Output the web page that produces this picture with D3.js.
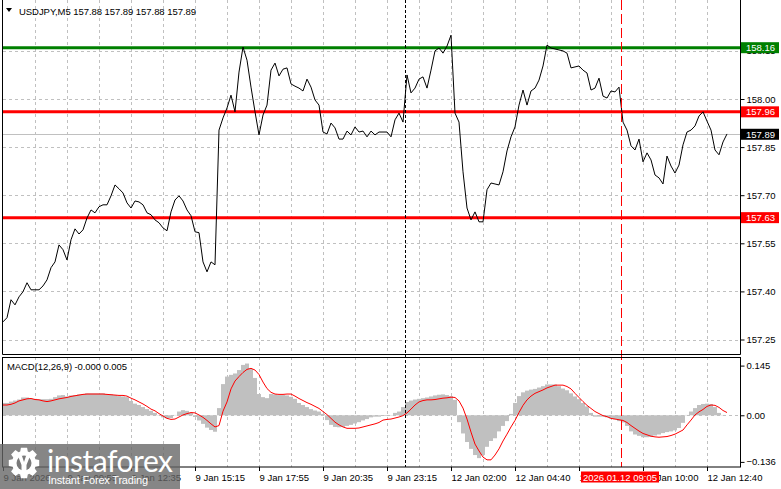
<!DOCTYPE html>
<html>
<head>
<meta charset="utf-8">
<script src="https://cdn.jsdelivr.net/npm/d3@7"></script>
<style>
  html, body { margin: 0; padding: 0; background: #fff; }
  svg { display: block; font-family: "Liberation Sans", Arial, sans-serif; }
</style>
</head>
<body>
<div id="chart"></div>
<script>
"use strict";

// close price, one value every 2 bars (10 minutes)
const closes = [
  157.305,157.318,157.374,157.358,157.383,157.399,157.427,157.405,157.405,157.405,
  157.417,157.436,157.474,157.492,157.545,157.530,157.498,157.561,157.595,157.579,
  157.592,157.629,157.654,157.645,157.664,157.670,157.670,157.698,157.732,157.720,
  157.707,157.676,157.660,157.682,157.679,157.670,157.645,157.639,157.623,157.614,
  157.598,157.589,157.648,157.685,157.698,157.682,157.654,157.636,157.586,157.583,
  157.492,157.461,157.492,157.483,157.903,157.941,157.972,158.012,157.960,158.084,
  158.162,158.121,158.037,157.960,157.888,157.950,157.981,158.090,158.112,158.072,
  158.093,158.097,158.047,158.040,158.034,158.025,158.062,158.037,157.997,157.981,
  157.897,157.891,157.925,157.910,157.875,157.875,157.900,157.888,157.913,157.897,
  157.900,157.882,157.900,157.888,157.897,157.897,157.897,157.882,157.935,157.956,
  157.928,158.075,158.019,158.034,158.062,158.069,158.034,158.090,158.150,158.159,
  158.143,158.165,158.199,157.956,157.928,157.773,157.660,157.623,157.648,157.617,
  157.617,157.717,157.738,157.735,157.732,157.773,157.838,157.882,157.913,157.981,
  158.028,157.981,158.025,158.034,158.059,158.103,158.168,158.159,158.156,158.153,
  158.150,158.143,158.097,158.100,158.103,158.090,158.081,158.028,158.034,158.065,
  158.009,158.003,158.025,158.022,158.037,157.928,157.903,157.854,157.841,157.875,
  157.804,157.832,157.810,157.763,157.754,157.735,157.822,157.791,157.769,157.794,
  157.857,157.897,157.903,157.916,157.947,157.960,157.931,157.903,157.841,157.826,
  157.866,157.891
];

// MACD(12,26,9) main (histogram) and signal, same sampling
const macdMain = [
  0.036,0.036,0.040,0.043,0.046,0.052,0.052,0.049,0.048,0.047,
  0.047,0.047,0.048,0.053,0.058,0.059,0.055,0.058,0.059,0.061,
  0.062,0.064,0.064,0.064,0.064,0.064,0.062,0.061,0.059,0.056,
  0.055,0.053,0.042,0.034,0.030,0.024,0.018,0.013,0.007,0.001,
  -0.006,-0.009,-0.008,0.001,0.011,0.015,0.013,0.007,-0.005,-0.015,
  -0.025,-0.036,-0.043,-0.048,0.021,0.091,0.113,0.118,0.122,0.132,
  0.147,0.151,0.135,0.109,0.062,0.053,0.050,0.062,0.061,0.059,
  0.059,0.058,0.054,0.048,0.036,0.030,0.024,0.018,0.014,0.011,
  0.004,-0.014,-0.028,-0.034,-0.035,-0.034,-0.031,-0.028,-0.024,-0.020,
  -0.015,-0.011,-0.006,-0.004,-0.004,-0.002,-0.002,-0.001,0.007,0.011,
  0.024,0.039,0.043,0.046,0.048,0.050,0.052,0.055,0.058,0.060,
  0.061,0.059,0.056,0.045,-0.020,-0.053,-0.078,-0.098,-0.116,-0.125,
  -0.116,-0.092,-0.075,-0.067,-0.047,-0.031,-0.017,0.004,0.036,0.056,
  0.067,0.072,0.075,0.077,0.081,0.085,0.090,0.090,0.090,0.085,
  0.078,0.073,0.064,0.055,0.047,0.036,0.026,0.007,-0.004,-0.004,
  -0.004,-0.006,-0.009,-0.012,-0.017,-0.021,-0.031,-0.047,-0.056,-0.060,
  -0.064,-0.064,-0.063,-0.059,-0.056,-0.052,-0.049,-0.047,-0.044,-0.037,
  -0.022,0.001,0.011,0.021,0.030,0.033,0.034,0.033,0.024,0.007,
  0.001,0.000
];
const macdSignal = [
  0.030,0.030,0.032,0.036,0.042,0.045,0.048,0.049,0.046,0.045,
  0.042,0.040,0.042,0.045,0.048,0.050,0.052,0.055,0.057,0.059,
  0.061,0.062,0.062,0.062,0.062,0.062,0.061,0.060,0.059,0.058,
  0.058,0.056,0.050,0.045,0.039,0.033,0.026,0.018,0.013,0.005,
  -0.002,-0.009,-0.012,-0.011,-0.005,0.001,0.005,0.008,0.007,0.001,
  -0.006,-0.015,-0.025,-0.034,-0.030,0.012,0.039,0.077,0.100,0.113,
  0.125,0.134,0.137,0.132,0.119,0.097,0.078,0.067,0.062,0.061,
  0.061,0.062,0.062,0.056,0.049,0.043,0.037,0.032,0.026,0.020,
  0.011,0.002,-0.009,-0.020,-0.028,-0.034,-0.038,-0.038,-0.038,-0.037,
  -0.034,-0.031,-0.028,-0.025,-0.021,-0.014,-0.012,-0.011,-0.008,-0.005,
  -0.001,0.007,0.018,0.030,0.039,0.043,0.045,0.045,0.046,0.048,
  0.050,0.051,0.053,0.052,0.042,0.021,-0.011,-0.049,-0.084,-0.104,
  -0.122,-0.130,-0.130,-0.116,-0.098,-0.075,-0.055,-0.034,-0.015,0.008,
  0.029,0.045,0.056,0.064,0.069,0.074,0.080,0.084,0.088,0.088,
  0.088,0.084,0.077,0.064,0.052,0.040,0.029,0.020,0.011,0.005,
  -0.001,-0.004,-0.009,-0.011,-0.013,-0.015,-0.021,-0.030,-0.038,-0.046,
  -0.053,-0.057,-0.061,-0.063,-0.064,-0.063,-0.062,-0.059,-0.055,-0.049,
  -0.043,-0.028,-0.014,0.001,0.010,0.017,0.026,0.030,0.029,0.023,
  0.014,0.008
];

const priceTicks = [158.15, 158.00, 157.85, 157.70, 157.55, 157.40, 157.25];
const macdTicks = [0.145, 0.00, -0.136];
const timeLabels = ["9 Jan 2026", "9 Jan 09:55", "9 Jan 12:35", "9 Jan 15:15", "9 Jan 17:55",
  "9 Jan 20:35", "9 Jan 23:15", "12 Jan 02:00", "12 Jan 04:40", "12 Jan 07:20",
  "12 Jan 10:00", "12 Jan 12:40"];
const resistance = 158.16;
const levels = [157.96, 157.63];
const lastPrice = 157.89;
const header = "USDJPY,M5  157.88 157.89 157.88 157.89";
const macdHeader = "MACD(12,26,9) -0.000 0.005";
const separatorBar = 201;
const cursorBar = 309;
const cursorLabel = "2026.01.12 09:05";

const barStep = 2;       // bars per sample
const barsVisible = 369;
const labelEvery = 32;   // bars between time labels
const gridEvery = 16;

const W = 781, H = 489;
const left = 3, right = 741;
const priceTop = 0, priceBottom = 355;
const macdTop = 357, macdBottom = 467;

const svg = d3.select("#chart").append("svg")
    .attr("width", W)
    .attr("height", H);

const xScale = d3.scaleLinear().domain([0, barsVisible]).range([left, right]);
const yPrice = d3.scaleLinear().domain([157.25, 158.00]).range([339.5, 99]);
const yMacd = d3.scaleLinear().domain([-0.136, 0.145]).range([461.9, 365.6]);

svg.append("rect").attr("width", W).attr("height", H).attr("fill", "#fff");

svg.append("clipPath").attr("id", "clipPrice")
    .append("rect").attr("x", left).attr("y", priceTop).attr("width", right - left).attr("height", priceBottom - priceTop);
svg.append("clipPath").attr("id", "clipMacd")
    .append("rect").attr("x", left).attr("y", macdTop).attr("width", right - left).attr("height", macdBottom - macdTop);

// vertical grid in both panels
let gridBars = d3.range(gridEvery, barsVisible - 1, gridEvery);
[[priceTop, priceBottom], [macdTop, macdBottom]].forEach(function(p) {
    svg.append("g").selectAll("line")
        .data(gridBars)
        .enter()
        .append("line")
            .attr("x1", d => Math.round(xScale(d)) + 0.5)
            .attr("x2", d => Math.round(xScale(d)) + 0.5)
            .attr("y1", p[0])
            .attr("y2", p[1])
            .attr("stroke", "#c0c0c0")
            .attr("stroke-dasharray", "3,3");
});

// horizontal grid, price panel
svg.append("g").selectAll("line")
    .data(priceTicks)
    .enter()
    .append("line")
        .attr("x1", left).attr("x2", right)
        .attr("y1", d => Math.round(yPrice(d)) + 0.5)
        .attr("y2", d => Math.round(yPrice(d)) + 0.5)
        .attr("stroke", "#c0c0c0")
        .attr("stroke-dasharray", "3,3");

// macd zero line
svg.append("line")
    .attr("x1", left).attr("x2", right)
    .attr("y1", Math.round(yMacd(0)) + 0.5)
    .attr("y2", Math.round(yMacd(0)) + 0.5)
    .attr("stroke", "#c0c0c0")
    .attr("stroke-dasharray", "3,3");

// current price line
svg.append("line")
    .attr("x1", left).attr("x2", right)
    .attr("y1", Math.round(yPrice(lastPrice)) + 0.5)
    .attr("y2", Math.round(yPrice(lastPrice)) + 0.5)
    .attr("stroke", "#c0c0c0");

// macd histogram
svg.append("g").attr("clip-path", "url(#clipMacd)")
    .selectAll("rect")
    .data(macdMain)
    .enter()
    .append("rect")
        .attr("x", (d, i) => xScale(i * barStep) - 2)
        .attr("width", 4)
        .attr("y", d => Math.min(yMacd(d), yMacd(0)))
        .attr("height", d => Math.abs(yMacd(d) - yMacd(0)))
        .attr("fill", "#c0c0c0");

svg.append("path")
    .datum(macdSignal)
    .attr("clip-path", "url(#clipMacd)")
    .attr("fill", "none")
    .attr("stroke", "#ff0000")
    .attr("stroke-width", 1)
    .attr("d", d3.line().x((d, i) => xScale(i * barStep)).y(d => yMacd(d)));

// support / resistance lines
svg.append("line")
    .attr("x1", left).attr("x2", right)
    .attr("y1", yPrice(resistance)).attr("y2", yPrice(resistance))
    .attr("stroke", "#008000").attr("stroke-width", 3);
svg.append("g").selectAll("line")
    .data(levels)
    .enter()
    .append("line")
        .attr("x1", left).attr("x2", right)
        .attr("y1", d => yPrice(d)).attr("y2", d => yPrice(d))
        .attr("stroke", "#ff0000").attr("stroke-width", 3);

// price line
svg.append("path")
    .datum(closes)
    .attr("clip-path", "url(#clipPrice)")
    .attr("fill", "none")
    .attr("stroke", "#000")
    .attr("stroke-width", 1)
    .attr("d", d3.line().x((d, i) => xScale(i * barStep)).y(d => yPrice(d)));

// separator and cursor lines
svg.append("line")
    .attr("x1", Math.round(xScale(separatorBar)) + 0.5)
    .attr("x2", Math.round(xScale(separatorBar)) + 0.5)
    .attr("y1", priceTop).attr("y2", macdBottom)
    .attr("stroke", "#000")
    .attr("stroke-dasharray", "3,2");
svg.append("line")
    .attr("x1", Math.round(xScale(cursorBar)) + 0.5)
    .attr("x2", Math.round(xScale(cursorBar)) + 0.5)
    .attr("y1", priceTop).attr("y2", macdBottom)
    .attr("stroke", "#ff0000")
    .attr("stroke-dasharray", "10,4");

// panel frames
svg.append("path")
    .attr("d", "M" + (left - 0.5) + "," + priceTop + "V" + (priceBottom - 0.5) + "H" + (right - 0.5) + "V" + priceTop)
    .attr("fill", "none").attr("stroke", "#000");
svg.append("rect")
    .attr("x", left - 0.5).attr("y", macdTop + 0.5)
    .attr("width", right - left).attr("height", macdBottom - macdTop - 0.5)
    .attr("fill", "none").attr("stroke", "#000");

// axes
const fontSize = "9.5px";
let priceAxis = svg.append("g")
    .attr("transform", "translate(" + (right - 0.5) + ",0)")
    .call(d3.axisRight(yPrice).tickValues(priceTicks).tickSize(4).tickPadding(2).tickFormat(d3.format(".2f")));
let macdAxis = svg.append("g")
    .attr("transform", "translate(" + (right - 0.5) + ",0)")
    .call(d3.axisRight(yMacd).tickValues(macdTicks).tickSize(4).tickPadding(2)
        .tickFormat(d => d === 0 ? "0.00" : d3.format(".3f")(d)));
let timeAxis = svg.append("g")
    .attr("transform", "translate(0," + (macdBottom) + ")")
    .call(d3.axisBottom(xScale)
        .tickValues(timeLabels.map((t, i) => i * labelEvery))
        .tickSize(4).tickPadding(3)
        .tickFormat((d, i) => timeLabels[i]));
timeAxis.selectAll("text").attr("text-anchor", "start").attr("dx", "0");
[priceAxis, macdAxis, timeAxis].forEach(function(a) {
    a.select(".domain").remove();
    a.selectAll("text").attr("fill", "#000").style("font-size", fontSize)
        .style("font-family", "'Liberation Sans', Arial, sans-serif");
    a.selectAll("line").attr("stroke", "#000");
});

// price tags on the right
function tag(value, color) {
    let y = yPrice(value);
    svg.append("rect")
        .attr("x", right).attr("y", y - 5.5)
        .attr("width", 38).attr("height", 11)
        .attr("fill", color);
    svg.append("text")
        .attr("x", right + 5).attr("y", y + 3.5)
        .attr("fill", "#fff")
        .style("font-size", fontSize)
        .text(d3.format(".2f")(value));
}
tag(resistance, "#008000");
levels.forEach(v => tag(v, "#ff0000"));
tag(lastPrice, "#000");

// cursor time tag
let cx = xScale(cursorBar);
svg.append("rect")
    .attr("x", cx - 40).attr("y", 471.5)
    .attr("width", 78).attr("height", 11)
    .attr("fill", "#ff0000");
svg.append("text")
    .attr("x", cx - 1).attr("y", 480.5)
    .attr("text-anchor", "middle")
    .attr("fill", "#fff")
    .style("font-size", fontSize)
    .text(cursorLabel);

// headers
svg.append("path")
    .attr("d", "M6,8 L12,8 L9,12 Z")
    .attr("fill", "#000");
svg.append("text")
    .attr("x", 19).attr("y", 14.5)
    .attr("textLength", 177)
    .style("font-size", fontSize)
    .text(header);
svg.append("text")
    .attr("x", 7).attr("y", 370)
    .attr("textLength", 120)
    .style("font-size", fontSize)
    .text(macdHeader);

// watermark
let logo = svg.append("g");
logo.append("rect")
    .attr("x", 0).attr("y", 444)
    .attr("width", 180).attr("height", H - 444)
    .attr("fill", "#656565").attr("opacity", 0.79);
let gear = [];
for (let k = 0; k < 8; k++) {
    let a = k * Math.PI / 4;
    [-0.32, -0.2, 0.2, 0.32].forEach(function(o, j) {
        let r = (j === 0 || j === 3) ? 12 : 15.5;
        gear.push([24 + r * Math.sin(a + o), 463 - r * Math.cos(a + o)]);
    });
}
logo.append("path")
    .attr("d", d3.line()(gear) + "Z")
    .attr("fill", "#fff");
logo.append("circle").attr("cx", 24).attr("cy", 463).attr("r", 7.5).attr("fill", "#7a7a7a");
logo.append("path")
    .attr("d", "M18,456 L22,456 L24,462 L26,456 L30,456 L26.5,465 L26.5,474 L21.5,474 L21.5,465 Z")
    .attr("fill", "#fff");
logo.append("text")
    .attr("x", 47).attr("y", 472)
    .attr("textLength", 126)
    .attr("fill", "#fff")
    .style("font-family", "Lato, 'Open Sans', sans-serif")
    .style("font-size", "30px")
    .text("instaforex");
logo.append("text")
    .attr("x", 48).attr("y", 484)
    .attr("textLength", 100)
    .attr("fill", "#fff")
    .style("font-size", "11px")
    .text("Instant Forex Trading");
</script>
</body>
</html>
